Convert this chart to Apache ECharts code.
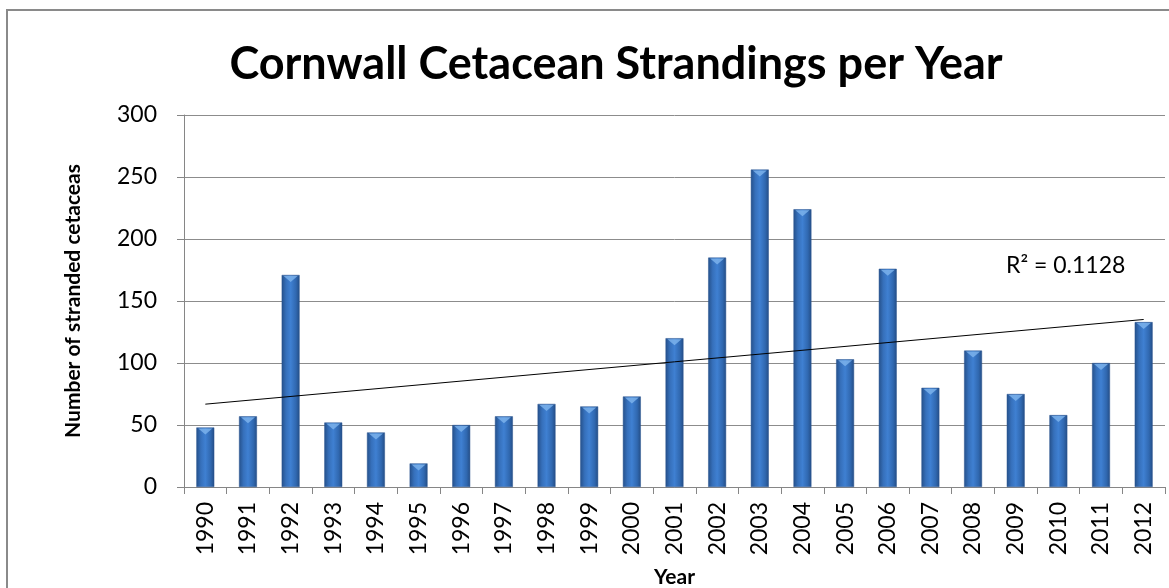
<!DOCTYPE html>
<html>
<head>
<meta charset="utf-8">
<script src="https://cdn.jsdelivr.net/npm/echarts@6/dist/echarts.min.js"></script>
<style>
  html, body { margin: 0; padding: 0; background: #fff; }
  #chart { width: 1169px; height: 588px; }
</style>
</head>
<body>
<div id="chart"></div>
<script>
const years = ['1990','1991','1992','1993','1994','1995','1996','1997','1998','1999','2000','2001','2002','2003','2004','2005','2006','2007','2008','2009','2010','2011','2012'];
const strandings = [48, 57, 171, 52, 44, 19, 50, 57, 67, 65, 73, 120, 185, 256, 224, 103, 176, 80, 110, 75, 58, 100, 133];
const trendStart = ['1990', 66.8];
const trendEnd = ['2012', 135.1];
const yTicks = [0, 50, 100, 150, 200, 250, 300];
const titleText = 'Cornwall Cetacean Strandings per Year';
const r2Text = 'R\u00b2 = 0.1128';

const chart = echarts.init(document.getElementById('chart'), null, { renderer: 'canvas' });
const font = 'Lato, "Open Sans", sans-serif';

chart.setOption({
  backgroundColor: '#ffffff',
  animation: false,
  title: {
    text: titleText,
    left: 611,
    top: 37,
    textAlign: 'center',
    textStyle: { fontFamily: font, fontWeight: 'bold', fontSize: 45, color: '#000' }
  },
  graphic: [
    {
      type: 'rect',
      shape: { x: 7, y: 10, width: 1250, height: 700 },
      style: { fill: 'none', stroke: '#8a8a8a', lineWidth: 2 },
      silent: true
    },
    {
      type: 'text',
      left: 1006,
      top: 254,
      style: { text: r2Text, font: '23px ' + font, fill: '#000' }
    }
  ],
  grid: { left: 184, right: 4, top: 115, bottom: 101, containLabel: false, outerBoundsMode: 'none' },
  xAxis: {
    type: 'category',
    data: years,
    name: 'Year',
    nameLocation: 'middle',
    nameGap: 80,
    nameTextStyle: { fontFamily: font, fontWeight: 'bold', fontSize: 21, color: '#000' },
    axisLine: { lineStyle: { color: '#868686', width: 1 } },
    axisTick: { show: true, length: 7, lineStyle: { color: '#868686' } },
    axisLabel: { rotate: 90, fontFamily: font, fontSize: 23, color: '#000', margin: 15, interval: 0 },
    boundaryGap: true
  },
  yAxis: {
    type: 'value',
    min: 0,
    max: 300,
    interval: 50,
    name: 'Number of stranded cetaceas',
    nameLocation: 'middle',
    nameGap: 100,
    nameRotate: 90,
    nameTextStyle: { fontFamily: font, fontWeight: 'bold', fontSize: 21, color: '#000' },
    axisLine: { show: true, lineStyle: { color: '#868686', width: 1 } },
    axisTick: { show: true, length: 7, lineStyle: { color: '#868686' } },
    axisLabel: {
      fontFamily: font, fontSize: 23, color: '#000', margin: 27,
      formatter: v => yTicks.includes(v) ? String(v) : ''
    },
    splitLine: { show: true, lineStyle: { color: '#8c8c8c', width: 1 } }
  },
  series: [
    {
      type: 'bar',
      data: strandings,
      barWidth: '42%',
      itemStyle: {
        color: new echarts.graphic.LinearGradient(0, 0, 1, 0, [
          { offset: 0, color: '#25508a' },
          { offset: 0.25, color: '#3670bb' },
          { offset: 0.5, color: '#3f80d2' },
          { offset: 0.8, color: '#3068b0' },
          { offset: 1, color: '#244d85' }
        ]),
        borderColor: '#2a5590',
        borderWidth: 0.5
      }
    },
    {
      type: 'scatter',
      data: strandings,
      symbol: 'triangle',
      symbolRotate: 180,
      symbolSize: [14, 6],
      symbolOffset: [0, 4],
      itemStyle: { color: '#7fb5ee' },
      silent: true,
      z: 3
    },
    {
      type: 'line',
      data: [trendStart, trendEnd],
      symbol: 'none',
      lineStyle: { color: '#000', width: 1 },
      z: 5
    }
  ]
});
</script>
</body>
</html>
